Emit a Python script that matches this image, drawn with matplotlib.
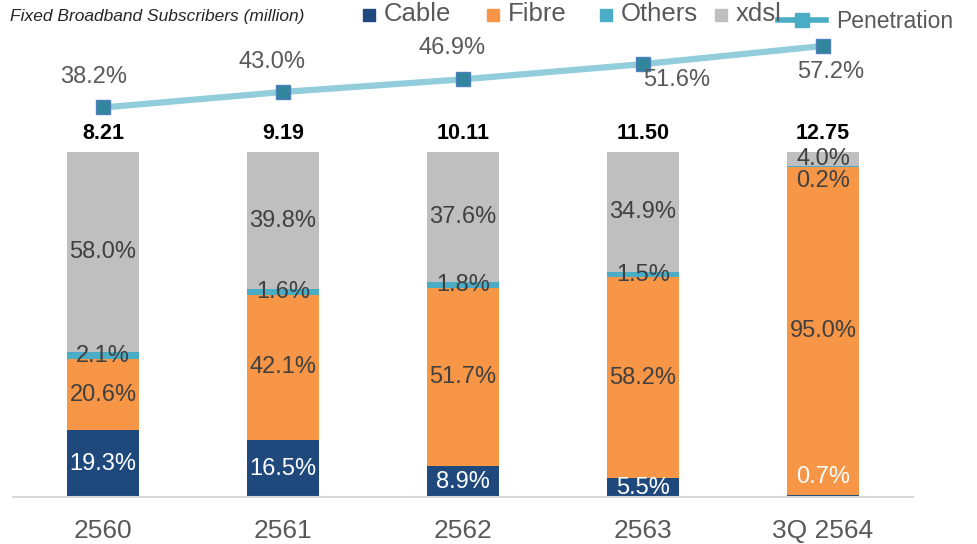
import matplotlib.pyplot as plt
import matplotlib.patches as mpatches
from matplotlib.lines import Line2D
import numpy as np

plt.rcParams['font.family'] = ['Liberation Sans', 'DejaVu Sans']

# data
years = ['2560', '2561', '2562', '2563', '3Q 2564']
cable = [19.3, 16.5, 8.9, 5.5, 0.7]
fibre = [20.6, 42.1, 51.7, 58.2, 95.0]
others = [2.1, 1.6, 1.8, 1.5, 0.2]
xdsl = [58.0, 39.8, 37.6, 34.9, 4.0]
totals = ['8.21', '9.19', '10.11', '11.50', '12.75']
penetration = [38.2, 43.0, 46.9, 51.6, 57.2]

colors = {'Cable': '#1F497D', 'Fibre': '#F79646', 'Others': '#4BACC6', 'xdsl': '#BFBFBF'}
txt_gray = '#595959'

fig = plt.figure(figsize=(9.78, 5.44), dpi=100)
ax = fig.add_axes([13 / 978, 47 / 544, 900 / 978, 497 / 544])
x = np.arange(len(years))
w = 0.4

series = [('Cable', cable, 'white'), ('Fibre', fibre, '#404040'),
          ('Others', others, '#404040'), ('xdsl', xdsl, '#404040')]
# label nudges (data units) where Excel moved the label off the segment centre
nudge = {(4, 'Cable'): 5.4, (4, 'Others'): -4.2}

bottom = np.zeros(len(years))
for name, vals, tc in series:
    vals = np.array(vals)
    ax.bar(x, vals, w, bottom=bottom, color=colors[name], linewidth=0)
    for i, v in enumerate(vals):
        y = bottom[i] + v / 2 + nudge.get((i, name), 0)
        ax.text(x[i], y, f'{v:.1f}%', ha='center', va='center',
                fontsize=17, color=tc)
    bottom += vals

for i, t in enumerate(totals):
    ax.text(x[i], 105.5, t, ha='center', va='center', fontsize=15.5,
            fontweight='bold', color='black')

ax.set_xlim(-0.5, 4.5)
ax.set_ylim(0, 144.06)
ax.set_xticks(x)
ax.set_xticklabels(years, fontsize=19, color=txt_gray)
ax.tick_params(axis='x', length=0, pad=16)
ax.set_yticks([])
for s in ['top', 'right', 'left']:
    ax.spines[s].set_visible(False)
ax.spines['bottom'].set_color('#D9D9D9')
ax.spines['bottom'].set_linewidth(1.5)

# penetration line
ax2 = ax.twinx()
ax2.plot(x, penetration, color='#92CDDC', lw=4.5, marker='s', markersize=10,
         markerfacecolor='#31859C', markeredgecolor='#4F81BD', markeredgewidth=1)
ax2.set_ylim(-82.1, 71.4)
ax2.axis('off')
offs = [(-9, 30), (-11, 30), (-11, 31), (34, -16), (8, -26)]
for i, p in enumerate(penetration):
    ax2.annotate(f'{p:.1f}%', (x[i], p), xytext=offs[i], textcoords='offset pixels',
                 ha='center', va='center', fontsize=17, color=txt_gray)

# legend drawn in figure pixels
def fy(py):
    return 1 - py / 544

fig.text(10 / 978, fy(17), 'Fixed Broadband Subscribers (million)', fontsize=12.5,
         fontstyle='italic', color='#262626', va='center', ha='left')
for name, sx in [('Cable', 363), ('Fibre', 487), ('Others', 600), ('xdsl', 715)]:
    fig.patches.append(mpatches.Rectangle((sx / 978, fy(21)), 12 / 978, 12 / 544,
                                          transform=fig.transFigure, color=colors[name]))
    fig.text((sx + 21) / 978, fy(14), name, fontsize=18.5, color=txt_gray,
             va='center', ha='left')
fig.lines.append(Line2D([778 / 978, 826 / 978], [fy(20), fy(20)], transform=fig.transFigure,
                        color='#4BACC6', lw=4))
fig.lines.append(Line2D([802 / 978], [fy(20)], transform=fig.transFigure, marker='s',
                        markersize=10, color='#4BACC6', lw=0))
fig.text(836 / 978, fy(21), 'Penetration', fontsize=16.5, color=txt_gray,
         va='center', ha='left')

fig.savefig('out.png', dpi=100)
